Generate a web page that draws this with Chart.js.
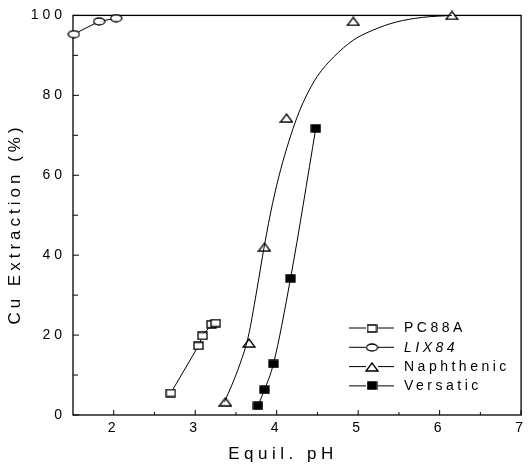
<!DOCTYPE html>
<html>
<head>
<meta charset="UTF-8">
<script src="https://cdn.jsdelivr.net/npm/chart.js@4.4.0/dist/chart.umd.min.js"></script>
<style>
  body { margin: 0; background: #fff; }
</style>
</head>
<body>
<canvas id="cu-chart" width="530" height="467"></canvas>
<script>
// values (equilibrium pH vs % Cu extracted)
var pc88aPH = [2.70, 3.04, 3.09, 3.20, 3.25];
var pc88aCu = [5.5, 17.3, 19.8, 22.7, 23.0];

var lix84PH = [1.51, 1.82, 2.03];
var lix84Cu = [95.3, 98.5, 99.3];

var naphPH = [3.37, 3.66, 3.85, 4.12, 4.94, 6.15];
var naphCu = [3.3, 18.0, 42.0, 74.3, 98.5, 100];

// the fitted curve through the naphthenic points
var naphFitPH = [3.36, 3.45, 3.55, 3.65, 3.75, 3.85, 3.95, 4.05, 4.15, 4.25, 4.35, 4.50, 4.70, 4.94, 5.18, 5.46, 5.79, 6.15];
var naphFitCu = [3.3, 7.5, 12.8, 19.5, 30.5, 42.5, 53.0, 61.5, 68.5, 74.5, 79.3, 84.8, 89.6, 93.8, 96.3, 98.3, 99.5, 100];

var versPH = [3.77, 3.85, 3.96, 4.17, 4.48];
var versCu = [2.3, 6.3, 12.8, 34.2, 71.7];

var seriesNames = ['PC88A', 'LIX84', 'Naphthenic', 'Versatic'];

var xTickLabels = [2, 3, 4, 5, 6, 7];
var xMinorTicks = [2.5, 3.5, 4.5, 5.5, 6.5];
var yTickLabels = [0, 20, 40, 60, 80, 100];
var yMinorTicks = [10, 30, 50, 70, 90];

var FONT = 'Arial, "Liberation Sans", sans-serif';

function pairs(xs, ys) {
  return xs.map(function(x, i) { return {x: x, y: ys[i]}; });
}

// little canvases used as point markers (and again in the legend)
function marker(kind) {
  var sizes = {square: [11, 9], ellipse: [13, 9], triangle: [14, 10], filled: [11, 9]};
  var w = sizes[kind][0], h = sizes[kind][1];
  var c = document.createElement('canvas');
  c.width = w; c.height = h;
  var g = c.getContext('2d');
  g.lineWidth = 1.3;
  g.strokeStyle = '#000';
  g.fillStyle = kind === 'filled' ? '#000' : '#fff';
  g.beginPath();
  if (kind === 'ellipse') {
    g.ellipse(w / 2, h / 2, w / 2 - 1, h / 2 - 1, 0, 0, Math.PI * 2);
  } else if (kind === 'triangle') {
    g.moveTo(w / 2, 1); g.lineTo(w - 1, h - 1); g.lineTo(1, h - 1); g.closePath();
  } else {
    g.rect(1, 1, w - 2, h - 2);
  }
  g.fill();
  g.stroke();
  return c;
}

var markers = [marker('square'), marker('ellipse'), marker('triangle'), marker('filled')];

var spacingPlugin = {
  id: 'spacing',
  beforeDraw: function(chart) { chart.ctx.letterSpacing = '4px'; }
};

// box round the plot and the inward tick marks
var framePlugin = {
  id: 'frame',
  beforeDatasetsDraw: function(chart) {
    var ctx = chart.ctx, a = chart.chartArea;
    var xs = chart.scales.x, ys = chart.scales.y;
    ctx.save();
    ctx.strokeStyle = '#000';
    ctx.lineWidth = 1.3;
    ctx.strokeRect(a.left, a.top, a.right - a.left, a.bottom - a.top);
    ctx.lineWidth = 1;
    ctx.beginPath();
    yTickLabels.forEach(function(v) { var p = ys.getPixelForValue(v); ctx.moveTo(a.left, p); ctx.lineTo(a.left + 6, p); });
    yMinorTicks.forEach(function(v) { var p = ys.getPixelForValue(v); ctx.moveTo(a.left, p); ctx.lineTo(a.left + 5, p); });
    xTickLabels.forEach(function(v) { var p = xs.getPixelForValue(v); ctx.moveTo(p, a.bottom); ctx.lineTo(p, a.bottom - 5); });
    xMinorTicks.forEach(function(v) { var p = xs.getPixelForValue(v); ctx.moveTo(p, a.bottom); ctx.lineTo(p, a.bottom - 3); });
    ctx.stroke();
    ctx.restore();
  }
};

// legend sits inside the plot, bottom right: line - marker - line - name
var legendPlugin = {
  id: 'insideLegend',
  afterDatasetsDraw: function(chart) {
    var ctx = chart.ctx;
    ctx.save();
    ctx.letterSpacing = '3.5px';
    ctx.textBaseline = 'middle';
    ctx.fillStyle = '#000';
    ctx.strokeStyle = '#000';
    ctx.lineWidth = 1;
    seriesNames.forEach(function(name, i) {
      var y = 328 + i * 19.3;
      ctx.beginPath();
      ctx.moveTo(349, y); ctx.lineTo(366, y);
      ctx.moveTo(378, y); ctx.lineTo(394, y);
      ctx.stroke();
      var m = markers[i];
      ctx.drawImage(m, 372 - m.width / 2, Math.round(y - m.height / 2));
      ctx.font = (name === 'LIX84' ? 'italic ' : '') + '14px ' + FONT;
      ctx.fillText(name, 404, y + 0.5);
    });
    ctx.restore();
  }
};

var titlePlugin = {
  id: 'axisTitles',
  afterDraw: function(chart) {
    var ctx = chart.ctx;
    ctx.save();
    ctx.font = '17px ' + FONT;
    ctx.fillStyle = '#000';
    ctx.textAlign = 'center';
    ctx.textBaseline = 'middle';
    ctx.letterSpacing = '4.5px';
    ctx.fillText('Equil. pH', 283, 454);
    ctx.letterSpacing = '4px';
    ctx.translate(15, 226);
    ctx.rotate(-Math.PI / 2);
    ctx.fillText('Cu Extraction (%)', 2, 0);
    ctx.restore();
  }
};

var lineBase = {
  borderColor: '#000',
  backgroundColor: '#000',
  borderWidth: 1,
  showLine: true,
  clip: false,
  pointRadius: 5,
  pointHoverRadius: 5
};

var chartData = {
  datasets: [
    Object.assign({}, lineBase, {label: 'Naphthenic fit', data: pairs(naphFitPH, naphFitCu), pointRadius: 0, cubicInterpolationMode: 'monotone'}),
    Object.assign({}, lineBase, {label: seriesNames[0], data: pairs(pc88aPH, pc88aCu), pointStyle: markers[0]}),
    Object.assign({}, lineBase, {label: seriesNames[1], data: pairs(lix84PH, lix84Cu), pointStyle: markers[1]}),
    Object.assign({}, lineBase, {label: seriesNames[2], data: pairs(naphPH, naphCu), showLine: false, pointStyle: markers[2]}),
    Object.assign({}, lineBase, {label: seriesNames[3], data: pairs(versPH, versCu), pointStyle: markers[3], cubicInterpolationMode: 'monotone'})
  ]
};

var tickFont = {family: FONT, size: 14};

new Chart(document.getElementById('cu-chart'), {
  type: 'scatter',
  data: chartData,
  options: {
    responsive: false,
    animation: false,
    devicePixelRatio: 1,
    layout: {padding: {top: 15, right: 2, left: 0, bottom: 0}},
    plugins: {legend: {display: false}, tooltip: {enabled: false}},
    scales: {
      x: {
        type: 'linear', min: 1.5, max: 7,
        grid: {display: false, drawTicks: false},
        border: {display: false},
        afterBuildTicks: function(s) { s.ticks = xTickLabels.map(function(v) { return {value: v}; }); },
        afterFit: function(s) { s.height = 52; },
        ticks: {color: '#000', font: tickFont, padding: 5, maxRotation: 0, autoSkip: false}
      },
      y: {
        type: 'linear', min: 0, max: 100,
        grid: {display: false, drawTicks: false},
        border: {display: false},
        afterBuildTicks: function(s) { s.ticks = yTickLabels.map(function(v) { return {value: v}; }); },
        afterFit: function(s) { s.width = 73; },
        ticks: {color: '#000', font: tickFont, padding: 7, autoSkip: false}
      }
    }
  },
  plugins: [spacingPlugin, framePlugin, legendPlugin, titlePlugin]
});
</script>
</body>
</html>
